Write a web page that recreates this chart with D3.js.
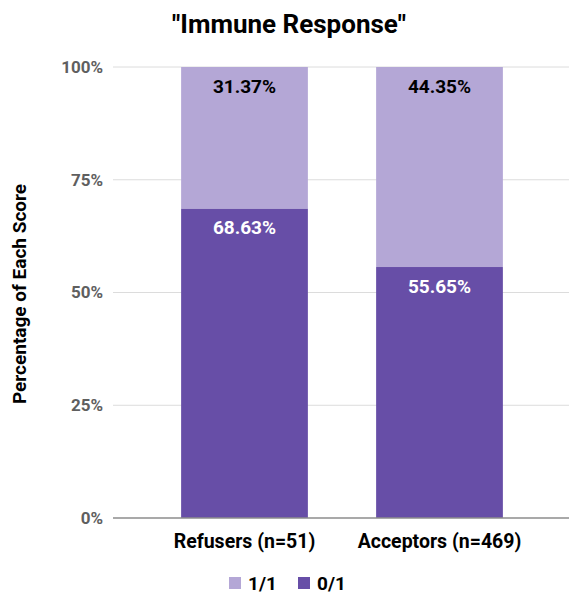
<!DOCTYPE html>
<html>
<head>
<meta charset="utf-8">
<script src="https://cdn.jsdelivr.net/npm/d3@7"></script>
<style>
  html, body { margin: 0; padding: 0; background: #fff; }
  svg { display: block; font-family: Roboto, "Noto Sans", sans-serif; }
</style>
</head>
<body>
<svg id="chart" width="569" height="598"></svg>
<script>
// Groups and their share of each score (percent)
const groups = ["Refusers (n=51)", "Acceptors (n=469)"];
const scoreZero = [68.63, 55.65];   // 0/1
const scoreOne  = [31.37, 44.35];   // 1/1
const yTicks = [0, 25, 50, 75, 100];
const legendItems = ["1/1", "0/1"];

const colorOne = "#b4a7d6";
const colorZero = "#674ea7";

const svg = d3.select("#chart");
const plot = { left: 113, right: 569, top: 67, bottom: 518 };

const x = d3.scaleBand()
  .domain(groups)
  .range([147, 537])
  .paddingInner(0.35)
  .paddingOuter(0.175);

const y = d3.scaleLinear()
  .domain([0, 100])
  .range([plot.bottom, plot.top]);

// Title
svg.append("text")
  .attr("x", 289)
  .attr("y", 33)
  .attr("text-anchor", "middle")
  .attr("font-size", 26)
  .attr("font-weight", "bold")
  .attr("fill", "#000")
  .text("\"Immune Response\"");

// Gridlines
svg.append("g")
  .selectAll("line")
  .data(yTicks.filter(t => t > 0))
  .join("line")
  .attr("x1", plot.left)
  .attr("x2", plot.right)
  .attr("y1", d => y(d))
  .attr("y2", d => y(d))
  .attr("stroke", "#dcdcdc")
  .attr("stroke-width", 1);

// Y axis tick labels
const yAxis = d3.axisLeft(y)
  .tickValues(yTicks)
  .tickFormat(d => d + "%")
  .tickSize(0)
  .tickPadding(0);

const yg = svg.append("g")
  .attr("transform", `translate(${103},0)`)
  .call(yAxis);
yg.select(".domain").remove();
yg.selectAll("text")
  .attr("font-size", 17)
  .attr("font-weight", "bold")
  .attr("fill", "#5f5f5f")
  .attr("font-family", "Roboto, sans-serif");

// Y axis title
svg.append("text")
  .attr("transform", `translate(26, 294) rotate(-90)`)
  .attr("text-anchor", "middle")
  .attr("font-size", 19)
  .attr("font-weight", "bold")
  .attr("fill", "#000")
  .text("Percentage of Each Score");

// Stacked bars
const rows = groups.map((g, i) => ({ group: g, zero: scoreZero[i], one: scoreOne[i] }));
const stack = d3.stack().keys(["zero", "one"]);
const series = stack(rows);
const colors = { zero: colorZero, one: colorOne };

svg.append("g")
  .selectAll("g")
  .data(series)
  .join("g")
  .attr("fill", d => colors[d.key])
  .selectAll("rect")
  .data(d => d)
  .join("rect")
  .attr("x", d => x(d.data.group))
  .attr("width", x.bandwidth())
  .attr("y", d => y(d[1]))
  .attr("height", d => y(d[0]) - y(d[1]));

// Value labels inside the top of each segment
svg.append("g")
  .selectAll("g")
  .data(series)
  .join("g")
  .selectAll("text")
  .data(d => d.map(v => ({ v, key: d.key })))
  .join("text")
  .attr("x", d => x(d.v.data.group) + x.bandwidth() / 2)
  .attr("y", d => y(d.v[1]) + 25.5)
  .attr("text-anchor", "middle")
  .attr("font-size", 19)
  .attr("font-weight", "bold")
  .attr("fill", d => d.key === "zero" ? "#fff" : "#000")
  .text(d => d.v.data[d.key].toFixed(2) + "%");

// Baseline
svg.append("line")
  .attr("x1", plot.left)
  .attr("x2", plot.right)
  .attr("y1", y(0))
  .attr("y2", y(0))
  .attr("stroke", "#8c8c8c")
  .attr("stroke-width", 1.5);

// X axis labels
const xAxis = d3.axisBottom(x).tickSize(0).tickPadding(0);
const xg = svg.append("g")
  .attr("transform", `translate(0, 548)`)
  .call(xAxis);
xg.select(".domain").remove();
xg.selectAll("text")
  .attr("dy", 0)
  .attr("font-size", 19.5)
  .attr("font-weight", "bold")
  .attr("fill", "#000")
  .attr("font-family", "Roboto, sans-serif");

// Legend
const legendColors = [colorOne, colorZero];
const legendX = [229, 298];
const lg = svg.append("g");
legendItems.forEach((name, i) => {
  lg.append("rect")
    .attr("x", legendX[i])
    .attr("y", 577)
    .attr("width", 12)
    .attr("height", 12)
    .attr("fill", legendColors[i]);
  lg.append("text")
    .attr("x", legendX[i] + 19)
    .attr("y", 590)
    .attr("font-size", 19)
    .attr("font-weight", "bold")
    .attr("fill", "#000")
    .text(name);
});
</script>
</body>
</html>
